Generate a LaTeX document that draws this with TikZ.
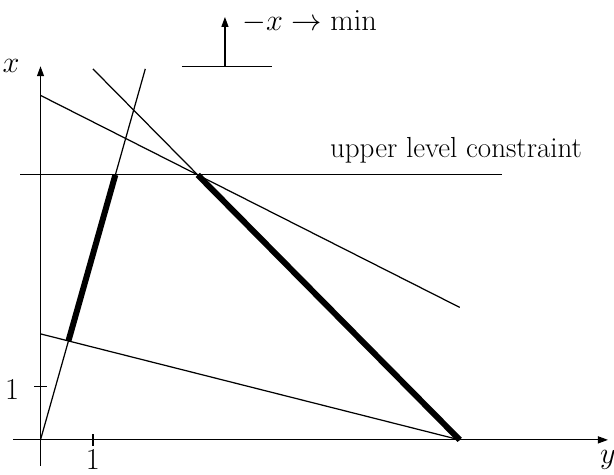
\documentclass[tikz,border=0pt]{standalone}
\usetikzlibrary{arrows.meta}
\begin{document}
\begin{tikzpicture}[x=1.048cm,y=1.06cm,
  thinline/.style={line width=0.7pt},
  thickline/.style={line width=3.4pt},
  axisarrow/.style={line width=0.7pt,-{Triangle[length=2mm,width=1.4mm]}},
  lbl/.style={inner sep=0pt,font=\fontsize{16.5}{19}\selectfont}]
\useasboundingbox (-0.773,-0.66) rectangle (10.945,8.30);
% axes
\coordinate (xl) at (-0.52,0);
\coordinate (xr) at (10.83,0);
\coordinate (yb) at (0,-0.49);
\coordinate (yt) at (0,7.05);
\draw[axisarrow] (xl) -- (xr);
\draw[axisarrow] (yb) -- (yt);
\node[lbl] (labx) at (-0.56,7.06) {$x$};
\node[lbl] (laby) at (10.83,-0.38) {$y$};
% ticks
\coordinate (tv1) at (-0.12,1);
\coordinate (tv2) at (0.12,1);
\coordinate (th1) at (1,-0.11);
\coordinate (th2) at (1,0.11);
\draw[thinline] (tv1) -- (tv2);
\draw[thinline] (th1) -- (th2);
\node[lbl] (one1) at (-0.54,0.94) {$1$};
\node[lbl] (one2) at (1.0,-0.37) {$1$};
% lines
\coordinate (O) at (0,0);
\coordinate (A) at (2,7);
\coordinate (B1) at (1,7);
\coordinate (B2) at (8,0);
\coordinate (C1) at (0,6.5);
\coordinate (C2) at (8,2.5);
\coordinate (D1) at (0,2);
\coordinate (D2) at (8,0);
\coordinate (E1) at (-0.39,5);
\coordinate (E2) at (8.81,5);
\draw[thinline] (O) -- (A);
\draw[thinline] (B1) -- (B2);
\draw[thinline] (C1) -- (C2);
\draw[thinline] (D1) -- (D2);
\draw[thinline] (E1) -- (E2);
% thick segments
\coordinate (P1) at (0.5333,1.8667);
\coordinate (P2) at (1.4286,5);
\coordinate (Q1) at (3,5);
\coordinate (Q2) at (8,0);
\draw[thickline] (P1) -- (P2);
\draw[thickline] (Q1) -- (Q2);
\node[lbl,anchor=base] (ulc) at (7.93,5.32) {upper level constraint};
% objective indicator
\coordinate (G1) at (2.70,7.04);
\coordinate (G2) at (4.42,7.04);
\coordinate (H1) at (3.52,7.04);
\coordinate (H2) at (3.52,7.98);
\draw[thinline] (G1) -- (G2);
\draw[axisarrow] (H1) -- (H2);
\node[lbl,anchor=west] (obj) at (3.85,7.89) {$-x\to\mathrm{min}$};
\end{tikzpicture}
\end{document}
